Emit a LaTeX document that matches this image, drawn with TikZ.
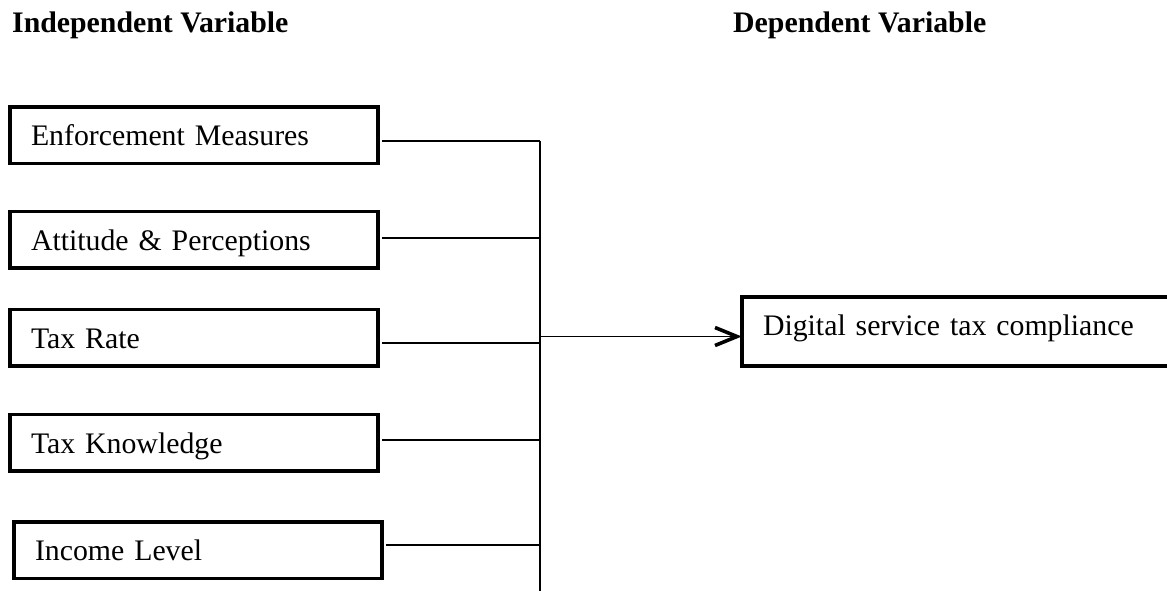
\documentclass[tikz,border=0pt]{standalone}
\usepackage{fontspec}
\setmainfont{Liberation Serif}
\usetikzlibrary{arrows.meta,calc}
\begin{document}
\begin{tikzpicture}[x=1pt,y=-1pt,
  basefont/.style={font=\fontsize{29.8pt}{36pt}\selectfont},
  varbox/.style={basefont, draw, line width=3.6pt, rectangle, anchor=north west, outer sep=0pt,
    inner xsep=21pt, inner ysep=0pt, text width=326pt, align=left,
    minimum height=56.5pt, text height=21pt, text depth=0pt},
  depbox/.style={varbox, text width=420pt, minimum height=69pt, text depth=14pt},
  link/.style={line width=1.7pt},
  arrowlink/.style={line width=1.3pt},
  chevron/.style={line width=3.6pt, line join=miter},
  heading/.style={basefont, anchor=base west, inner sep=0pt, font=\fontsize{29.8pt}{36pt}\selectfont\bfseries}
]
\useasboundingbox (0,0) rectangle (1167,590);

\node[heading] (tind) at (12,32) {Independent Variable};
\node[heading] (tdep) at (733,32) {Dependent Variable};

\node[varbox] (b1) at (10,107) {Enforcement Measures};
\node[varbox] (b2) at (10,211.5) {Attitude \& Perceptions};
\node[varbox] (b3) at (10,309.5) {Tax Rate};
\node[varbox] (b4) at (10,414.5) {Tax Knowledge};
\node[varbox] (b5) at (14,522) {Income Level};

\node[depbox] (dv) at (742,297) {Digital service tax compliance};

\coordinate (j1) at (540,141);
\coordinate (j2) at (540,238);
\coordinate (j3) at (540,343);
\coordinate (j4) at (540,440);
\coordinate (j5) at (540,545);
\coordinate (jout) at (540,336.5);
\coordinate (busend) at (540,595);
\coordinate (atip) at ($(dv.west |- jout)+(-5,0)$);

\draw[link] ($(b1.east |- j1)+(4,0)$) -- (j1);
\draw[link] ($(b2.east |- j2)+(4,0)$) -- (j2);
\draw[link] ($(b3.east |- j3)+(4,0)$) -- (j3);
\draw[link] ($(b4.east |- j4)+(4,0)$) -- (j4);
\draw[link] ($(b5.east |- j5)+(4,0)$) -- (j5);
\draw[link] (j1) -- (busend);
\draw[arrowlink] (jout) -- (atip);
\draw[chevron] ($(atip)+(-22,-9)$) -- (atip) -- ($(atip)+(-22,9)$);
\end{tikzpicture}
\end{document}
